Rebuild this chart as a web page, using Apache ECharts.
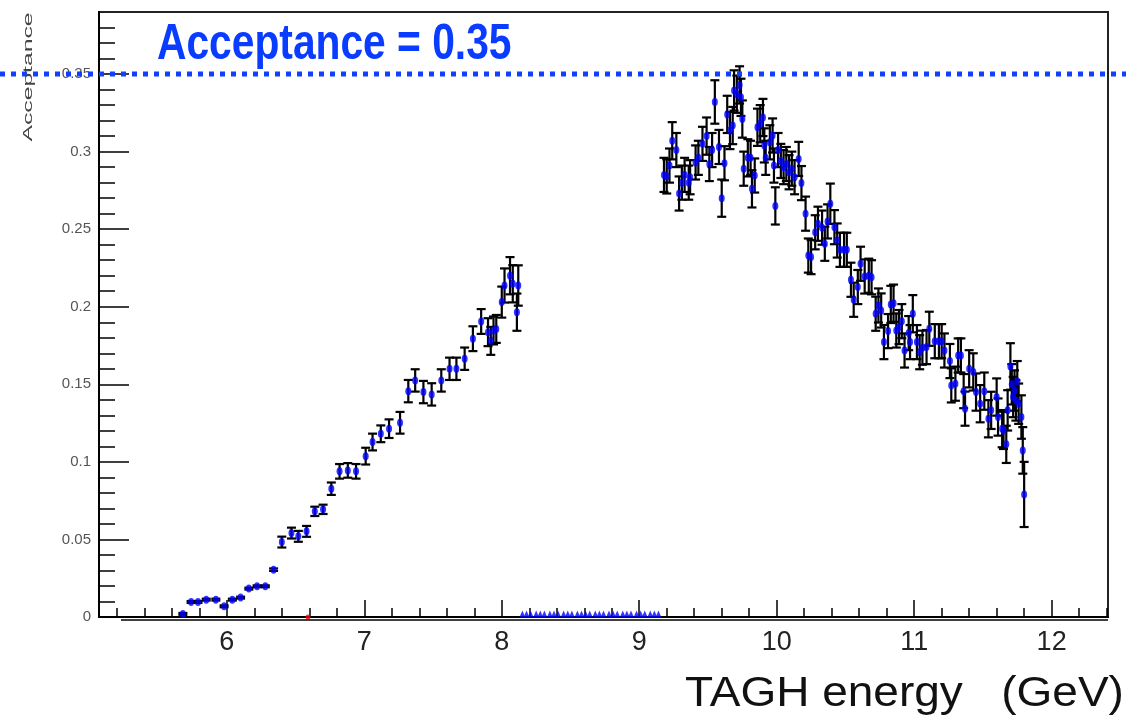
<!DOCTYPE html>
<html>
<head>
<meta charset="utf-8">
<script src="https://cdn.jsdelivr.net/npm/echarts@6/dist/echarts.min.js"></script>
<style>
  html, body { margin: 0; padding: 0; background: #fff; }
  #chart { width: 1126px; height: 719px; }
</style>
</head>
<body>
<div id="chart"></div>
<script>
// low-energy part (below the gap)
const lowE = [5.68, 5.74, 5.79, 5.85, 5.92, 5.98, 6.04, 6.10, 6.16, 6.22, 6.28, 6.34,
  6.40, 6.47, 6.52, 6.58, 6.64, 6.70, 6.76, 6.82, 6.88, 6.94, 7.01, 7.06, 7.12, 7.18, 7.26,
  7.32, 7.37, 7.43, 7.49, 7.56, 7.62, 7.67, 7.73, 7.79, 7.85, 7.90, 7.92, 7.94, 7.96,
  8.00, 8.02, 8.06, 8.08, 8.11, 8.12];
const lowAcc = [0.002, 0.0097, 0.0097, 0.0112, 0.0112, 0.0069, 0.0112, 0.0125, 0.0183, 0.0198, 0.0198, 0.0305,
  0.0483, 0.0541, 0.052, 0.0552, 0.0681, 0.0694, 0.0827, 0.0939, 0.0945, 0.0939, 0.1037, 0.1128, 0.1181, 0.1214, 0.1252,
  0.1456, 0.1525, 0.145, 0.1435, 0.1525, 0.160, 0.160, 0.1665, 0.1794, 0.1905, 0.1836, 0.178, 0.1847, 0.1857,
  0.203, 0.2137, 0.220, 0.2148, 0.1965, 0.2137];
const lowErr = [0.0006, 0.0006, 0.0006, 0.0006, 0.0006, 0.0006, 0.0006, 0.0006, 0.0006, 0.0006, 0.0006, 0.0008,
  0.0035, 0.0035, 0.0035, 0.0035, 0.003, 0.003, 0.004, 0.0047, 0.0047, 0.0047, 0.0054, 0.0054, 0.0054, 0.006, 0.007,
  0.0072, 0.0072, 0.0072, 0.0072, 0.0072, 0.0072, 0.0072, 0.0072, 0.008, 0.008, 0.009, 0.009, 0.009, 0.009,
  0.010, 0.011, 0.012, 0.012, 0.012, 0.013];

// high-energy part
const highE = [
  9.18, 9.20, 9.22, 9.24, 9.27, 9.29, 9.31, 9.33, 9.36, 9.37,
  9.41, 9.43, 9.46, 9.49, 9.51, 9.53, 9.55, 9.58, 9.60, 9.62,
  9.64, 9.66, 9.68, 9.69, 9.71, 9.73, 9.74, 9.75, 9.76, 9.79,
  9.81, 9.82, 9.84, 9.86, 9.88, 9.90, 9.91, 9.92, 9.95, 9.97,
  9.98, 9.99, 10.01, 10.03, 10.05, 10.07, 10.09, 10.11, 10.13, 10.16,
  10.18, 10.21, 10.23, 10.25, 10.28, 10.30, 10.33, 10.35, 10.37, 10.39,
  10.42, 10.44, 10.46, 10.49, 10.51, 10.54, 10.56, 10.59, 10.61, 10.64,
  10.67, 10.69, 10.72, 10.74, 10.76, 10.78, 10.81, 10.83, 10.85, 10.87,
  10.89, 10.91, 10.93, 10.96, 10.97, 10.99, 11.02, 11.04, 11.06, 11.09,
  11.11, 11.15, 11.18, 11.20, 11.22, 11.26, 11.27, 11.30, 11.32, 11.34,
  11.36, 11.37, 11.40, 11.43, 11.45, 11.48, 11.51, 11.54, 11.56, 11.60,
  11.61, 11.64, 11.65, 11.67, 11.68, 11.70, 11.71, 11.72, 11.73, 11.74,
  11.75, 11.76, 11.78, 11.79, 11.80];
const highAcc = [
  0.285, 0.284, 0.291, 0.307, 0.301, 0.273, 0.280, 0.285, 0.280, 0.2835,
  0.293, 0.296, 0.305, 0.310, 0.292, 0.301, 0.332, 0.303, 0.270, 0.2925,
  0.324, 0.3136, 0.3168, 0.3394, 0.337, 0.343, 0.335, 0.321, 0.289, 0.296,
  0.296, 0.276, 0.2846, 0.3157, 0.318, 0.322, 0.304, 0.296, 0.306, 0.3104,
  0.291, 0.265, 0.301, 0.294, 0.290, 0.292, 0.2867, 0.289, 0.2835, 0.2953,
  0.2797, 0.260, 0.233, 0.232, 0.248, 0.2535, 0.251, 0.2406, 0.255, 0.2664,
  0.2513, 0.2427, 0.2367, 0.2367, 0.2367, 0.2174, 0.2045, 0.2127, 0.2277, 0.2195,
  0.220, 0.219, 0.1955, 0.2008, 0.1976, 0.1772, 0.1843, 0.2015, 0.2023, 0.1847,
  0.1869, 0.1907, 0.1718, 0.183, 0.1772, 0.1955, 0.1772, 0.1707, 0.1736, 0.174,
  0.1858, 0.1778, 0.1778, 0.1778, 0.1718, 0.165, 0.1493, 0.1504, 0.1686, 0.1686,
  0.1456, 0.1343, 0.160, 0.158, 0.145, 0.1375, 0.1456, 0.1278, 0.1332, 0.1418,
  0.1289, 0.1214, 0.1203, 0.1113, 0.1332, 0.1615, 0.150, 0.1418, 0.146, 0.1396,
  0.152, 0.1375, 0.1289, 0.1074, 0.079];
const highErr = [
  0.011, 0.011, 0.011, 0.012, 0.011, 0.011, 0.011, 0.011, 0.011, 0.011,
  0.011, 0.011, 0.011, 0.012, 0.011, 0.011, 0.014, 0.011, 0.012, 0.011,
  0.012, 0.012, 0.012, 0.013, 0.012, 0.012, 0.012, 0.012, 0.011, 0.012,
  0.011, 0.012, 0.011, 0.012, 0.012, 0.012, 0.011, 0.011, 0.011, 0.011,
  0.011, 0.012, 0.011, 0.011, 0.011, 0.011, 0.011, 0.011, 0.011, 0.011,
  0.011, 0.011, 0.011, 0.011, 0.011, 0.011, 0.011, 0.011, 0.011, 0.013,
  0.011, 0.011, 0.011, 0.011, 0.011, 0.011, 0.011, 0.011, 0.011, 0.011,
  0.011, 0.011, 0.011, 0.011, 0.011, 0.011, 0.011, 0.012, 0.012, 0.011,
  0.011, 0.011, 0.011, 0.011, 0.011, 0.012, 0.011, 0.011, 0.011, 0.011,
  0.011, 0.011, 0.011, 0.011, 0.011, 0.011, 0.011, 0.011, 0.011, 0.011,
  0.011, 0.011, 0.012, 0.012, 0.012, 0.012, 0.012, 0.012, 0.012, 0.012,
  0.012, 0.012, 0.012, 0.012, 0.013, 0.015, 0.013, 0.013, 0.013, 0.013,
  0.013, 0.013, 0.014, 0.015, 0.021];

// empty bins in the gap, drawn on the axis
const zeroE = [8.15, 8.18, 8.21, 8.25, 8.28, 8.31, 8.35, 8.38, 8.41, 8.45, 8.48, 8.51, 8.55, 8.58, 8.61, 8.64,
  8.68, 8.71, 8.74, 8.78, 8.81, 8.84, 8.88, 8.91, 8.94, 8.98, 9.01, 9.04, 9.08, 9.11, 9.14];
const zeroAcc = [0, 0, 0, 0, 0, 0, 0, 0, 0, 0, 0, 0, 0, 0, 0, 0, 0, 0, 0, 0, 0, 0, 0, 0, 0, 0, 0, 0, 0, 0, 0];
const redE = [6.59];
const redAcc = [0];

const acceptanceLevel = 0.35;

// axes
const xMin = 5.07, xMax = 12.41;
const yMin = 0, yMax = 0.39;
const xMajorTicks = [6, 7, 8, 9, 10, 11, 12];
const xMinorTicks = [5.2, 5.4, 5.6, 5.8, 6.2, 6.4, 6.6, 6.8, 7.2, 7.4, 7.6, 7.8, 8.2, 8.4, 8.6, 8.8,
  9.2, 9.4, 9.6, 9.8, 10.2, 10.4, 10.6, 10.8, 11.2, 11.4, 11.6, 11.8, 12.2, 12.4];
const yMajorTicks = [0, 0.05, 0.1, 0.15, 0.2, 0.25, 0.3, 0.35];
const yMinorTicks = [0.01, 0.02, 0.03, 0.04, 0.06, 0.07, 0.08, 0.09, 0.11, 0.12, 0.13, 0.14,
  0.16, 0.17, 0.18, 0.19, 0.21, 0.22, 0.23, 0.24, 0.26, 0.27, 0.28, 0.29, 0.31, 0.32, 0.33, 0.34,
  0.36, 0.37, 0.38];

const lowPts = lowE.map((e, i) => [e, lowAcc[i], lowErr[i]]);
const highPts = highE.map((e, i) => [e, highAcc[i], highErr[i]]);
const allPts = lowPts.concat(highPts);

const chart = echarts.init(document.getElementById("chart"));

// vertical error bar with caps
const renderErr = (params, api) => {
  const x = api.value(0);
  const y = api.value(1);
  const err = api.value(2);
  const top = api.coord([x, y + err]);
  const bot = api.coord([x, y - err]);
  const hw = 4.5;
  const st = { stroke: "#000", lineWidth: 2.2 };
  return {
    type: "group",
    children: [
      { type: "line", shape: { x1: top[0], y1: top[1], x2: bot[0], y2: bot[1] }, style: st },
      { type: "line", shape: { x1: top[0] - hw, y1: top[1], x2: top[0] + hw, y2: top[1] }, style: st },
      { type: "line", shape: { x1: bot[0] - hw, y1: bot[1], x2: bot[0] + hw, y2: bot[1] }, style: st },
    ],
  };
};

const fontFam = '"Liberation Sans", Arial, sans-serif';

chart.setOption({
  animation: false,
  grid: {
    left: 99, right: 18, top: 12, bottom: 102,
    show: true, borderColor: "#222", borderWidth: 2, backgroundColor: "transparent",
  },
  xAxis: [
    {
      type: "value", min: xMin, max: xMax,
      axisLine: { show: true, onZero: false, lineStyle: { color: "#000", width: 2 } },
      axisTick: { show: true, inside: true, length: 17, customValues: xMajorTicks, lineStyle: { color: "#000", width: 1.5 } },
      axisLabel: { customValues: xMajorTicks, fontSize: 27, color: "#222", margin: 12, fontFamily: fontFam },
      splitLine: { show: false },
    },
    {
      type: "value", min: xMin, max: xMax, position: "bottom",
      axisLine: { show: false },
      axisTick: { show: true, inside: true, length: 9, customValues: xMinorTicks, lineStyle: { color: "#000", width: 1.5 } },
      axisLabel: { show: false },
      splitLine: { show: false },
    },
  ],
  yAxis: [
    {
      type: "value", min: yMin, max: yMax,
      axisLine: { show: true, lineStyle: { color: "#000", width: 2 } },
      axisTick: { show: true, inside: true, length: 30, customValues: yMajorTicks, lineStyle: { color: "#000", width: 1.5 } },
      axisLabel: { customValues: yMajorTicks, fontSize: 15, color: "#555", margin: 8, fontFamily: fontFam },
      splitLine: { show: false },
    },
    {
      type: "value", min: yMin, max: yMax, position: "left",
      axisLine: { show: false },
      axisTick: { show: true, inside: true, length: 16, customValues: yMinorTicks, lineStyle: { color: "#000", width: 1.5 } },
      axisLabel: { show: false },
      splitLine: { show: false },
    },
  ],
  series: [
    {
      type: "custom",
      renderItem: renderErr,
      data: allPts,
      encode: { x: 0, y: 1 },
      z: 2,
    },
    {
      type: "scatter",
      data: allPts.map((p) => [p[0], p[1]]),
      symbol: "circle",
      symbolSize: [6, 8],
      itemStyle: { color: "#0000ff" },
      z: 3,
    },
    {
      type: "scatter",
      data: zeroE.map((e, i) => [e, zeroAcc[i]]),
      symbol: "triangle",
      symbolSize: [6, 7],
      symbolOffset: [0, -3],
      itemStyle: { color: "#0000ff" },
      z: 3,
    },
    {
      type: "scatter",
      data: redE.map((e, i) => [e, redAcc[i]]),
      symbol: "circle",
      symbolSize: 5,
      itemStyle: { color: "#ff0000" },
      z: 3,
    },
  ],
});

// overlays placed from the axis scales
const yLine = chart.convertToPixel({ yAxisIndex: 0 }, acceptanceLevel);
const yZero = chart.convertToPixel({ yAxisIndex: 0 }, 0);
const xAxisStart = chart.convertToPixel({ xAxisIndex: 0 }, 5.23);
const xAxisEnd = chart.convertToPixel({ xAxisIndex: 0 }, xMax);

chart.setOption({
  graphic: [
    {
      type: "line", z: 10,
      shape: { x1: 0, y1: yLine, x2: 1126, y2: yLine },
      style: { stroke: "#1040ff", lineWidth: 5, lineDash: [5, 6] },
    },
    {
      type: "line", z: 5,
      shape: { x1: xAxisStart, y1: yZero + 3, x2: xAxisEnd, y2: yZero + 3 },
      style: { stroke: "#000", lineWidth: 1.5 },
    },
    {
      type: "text", z: 10, x: 157, y: 45.5, scaleX: 0.815,
      style: {
        text: "Acceptance = " + acceptanceLevel, fill: "#0a3cff",
        font: 'bold 50px "Liberation Sans", Arial, sans-serif',
        align: "left", verticalAlign: "middle",
      },
    },
    {
      type: "text", z: 10, x: 28.5, y: 77, rotation: Math.PI / 2, scaleX: 1.9,
      style: {
        text: "Acceptance", fill: "#444",
        font: '13px "Liberation Sans", Arial, sans-serif',
        align: "center", verticalAlign: "middle",
      },
    },
    {
      type: "text", z: 10, x: 685, y: 694, scaleX: 1.07,
      style: {
        text: "TAGH energy   (GeV)", fill: "#111",
        font: '43px "Liberation Sans", Arial, sans-serif',
        align: "left", verticalAlign: "middle",
      },
    },
  ],
});
</script>
</body>
</html>
